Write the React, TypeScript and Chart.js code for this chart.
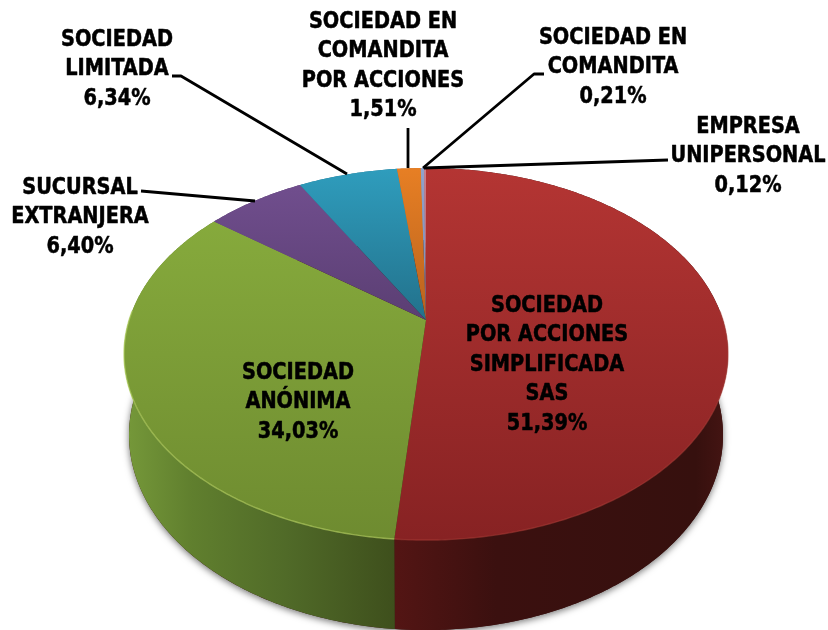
import React, { useEffect, useRef } from "react";
import { Chart, registerables } from "chart.js";

Chart.register(...registerables);

// clockwise from 12 o'clock
const names: string[][] = [
  ["SOCIEDAD", "POR ACCIONES", "SIMPLIFICADA", "SAS"],
  ["SOCIEDAD", "ANÓNIMA"],
  ["SUCURSAL", "EXTRANJERA"],
  ["SOCIEDAD", "LIMITADA"],
  ["SOCIEDAD EN", "COMANDITA", "POR ACCIONES"],
  ["SOCIEDAD EN", "COMANDITA"],
  ["EMPRESA", "UNIPERSONAL"],
];
const values = [51.39, 34.03, 6.4, 6.34, 1.51, 0.21, 0.12];
const baseColors = ["#A12C2C", "#7F9F38", "#684A86", "#2A8AA8", "#E07B24", "#8C9FC8", "#C08A9A"];
const faceLight = ["#B43533", "#8AAF3E", "#735091", "#2F9DBD", "#E77F24", "#8FA3CC", "#C9808C"];
const faceDark = ["#872223", "#6E8B30", "#5A3E72", "#22708A", "#B8621E", "#7A8CB4", "#A06070"];
const labelSlots = [
  { x: 547, y: 312 },
  { x: 298, y: 379 },
  { x: 80, y: 194 },
  { x: 117, y: 46 },
  { x: 383, y: 28 },
  { x: 613, y: 44 },
  { x: 748, y: 133 },
];
const leaders: number[][][] = [
  [[668, 160], [424, 168]],
  [[544, 74], [534, 74], [423, 168]],
  [[408, 128], [408, 168]],
  [[172, 76], [181, 76], [347, 174]],
  [[141, 191], [255, 201]],
];

const LINE = 29.4;
const FONT = 'bold 22.5px "DejaVu Sans Condensed", "DejaVu Sans", sans-serif';
const TEXT_SQUEEZE = 0.955;
// perspective projection of the pie disc
const K = 0.183;
const B = 179.8;
const A = 296.9;

const pie3d = {
  id: "pie3d",
  beforeDatasetsDraw(chart: any) {
    const ctx: CanvasRenderingContext2D = chart.ctx;
    const arcs = chart.getDatasetMeta(0).data;
    const cx = arcs[0].x;
    const cy = arcs[0].y;
    const top = (a: number): [number, number] => {
      const d = 1 - K * Math.sin(a);
      return [cx + (A * Math.cos(a)) / d, cy + (B * Math.sin(a)) / d];
    };
    const bottom = (a: number): [number, number] => {
      const [x, y] = top(a);
      return [cx + ((x - cx) * 297) / 302, 435 + ((y - 354) * 195) / 186];
    };
    const samples = (s: number, e: number) => {
      const n = Math.max(2, Math.ceil((e - s) / 0.01));
      return Array.from({ length: n + 1 }, (_, i) => s + ((e - s) * i) / n);
    };

    ctx.save();
    // soft shadow below the whole solid
    ctx.save();
    ctx.shadowColor = "rgba(0,0,0,0.55)";
    ctx.shadowBlur = 7;
    ctx.shadowOffsetY = 2;
    ctx.fillStyle = "#3a100e";
    ctx.beginPath();
    samples(-Math.PI / 2, Math.PI * 1.5).forEach((a, i) => {
      const [x, y] = bottom(a);
      i ? ctx.lineTo(x, y) : ctx.moveTo(x, y);
    });
    ctx.closePath();
    ctx.fill();
    ctx.restore();

    const sideGreen = ctx.createLinearGradient(124, 0, 396, 0);
    sideGreen.addColorStop(0, "#76993A");
    sideGreen.addColorStop(0.25, "#607F2E");
    sideGreen.addColorStop(0.6, "#506A28");
    sideGreen.addColorStop(1, "#3E4F1C");
    const sideRed = ctx.createLinearGradient(396, 0, 729, 0);
    sideRed.addColorStop(0, "#531514");
    sideRed.addColorStop(0.3, "#3B100F");
    sideRed.addColorStop(0.9, "#36100E");
    sideRed.addColorStop(1, "#461513");

    arcs.forEach((arc: any, i: number) => {
      const pts = samples(arc.startAngle, arc.endAngle);
      ctx.beginPath();
      pts.forEach((a, j) => {
        const [x, y] = top(a);
        j ? ctx.lineTo(x, y) : ctx.moveTo(x, y);
      });
      [...pts].reverse().forEach((a) => {
        const [x, y] = bottom(a);
        ctx.lineTo(x, y);
      });
      ctx.closePath();
      ctx.fillStyle = i === 0 ? sideRed : i === 1 ? sideGreen : faceDark[i];
      ctx.fill();
    });

    arcs.forEach((arc: any, i: number) => {
      const g = ctx.createLinearGradient(0, 168, 0, 540);
      const span = i < 2;
      g.addColorStop(0, faceLight[i]);
      g.addColorStop(span ? 1 : 0.42, faceDark[i]);
      ctx.beginPath();
      ctx.moveTo(cx, cy);
      samples(arc.startAngle, arc.endAngle).forEach((a) => {
        const [x, y] = top(a);
        ctx.lineTo(x, y);
      });
      ctx.closePath();
      ctx.fillStyle = g;
      ctx.fill();
      // light rim along the front edge
      if (span) {
        ctx.beginPath();
        samples(Math.max(arc.startAngle, -0.05), Math.min(arc.endAngle, Math.PI + 0.05)).forEach((a, j) => {
          const [x, y] = top(a);
          j ? ctx.lineTo(x, y) : ctx.moveTo(x, y);
        });
        ctx.strokeStyle = i === 1 ? "rgba(175,205,95,0.7)" : "rgba(170,60,55,0.55)";
        ctx.lineWidth = 1.4;
        ctx.stroke();
      }
    });

    ctx.strokeStyle = "#000";
    ctx.lineWidth = 2.8;
    ctx.lineJoin = "round";
    leaders.forEach((l) => {
      ctx.beginPath();
      l.forEach(([x, y], i) => (i ? ctx.lineTo(x, y) : ctx.moveTo(x, y)));
      ctx.stroke();
    });

    ctx.fillStyle = "#000";
    ctx.strokeStyle = "#000";
    ctx.lineWidth = 0.5;
    ctx.font = FONT;
    ctx.textAlign = "center";
    ctx.textBaseline = "alphabetic";
    names.forEach((lines, i) => {
      const pct = values[i].toFixed(2).replace(".", ",") + "%";
      [...lines, pct].forEach((t, j) => {
        ctx.save();
        ctx.translate(labelSlots[i].x, labelSlots[i].y + j * LINE);
        ctx.scale(TEXT_SQUEEZE, 1);
        ctx.fillText(t, 0, 0);
        ctx.strokeText(t, 0, 0);
        ctx.restore();
      });
    });
    ctx.restore();
    return false;
  },
};

export default function App() {
  const ref = useRef<HTMLCanvasElement | null>(null);
  useEffect(() => {
    document.body.style.margin = "0";
    const chart = new Chart(ref.current as HTMLCanvasElement, {
      type: "pie",
      data: {
        labels: names.map((n) => n.join(" ")),
        datasets: [{ data: values, backgroundColor: baseColors, borderWidth: 0 }],
      },
      options: {
        responsive: false,
        animation: false,
        layout: { padding: { left: 24, top: 10 } },
        plugins: { legend: { display: false }, tooltip: { enabled: false } },
      },
      plugins: [pie3d],
    } as any);
    return () => chart.destroy();
  }, []);
  return (
    <canvas
      ref={ref}
      width={828}
      height={630}
      style={{ display: "block", width: 828, height: 630, filter: "blur(0.45px)" }}
    />
  );
}
